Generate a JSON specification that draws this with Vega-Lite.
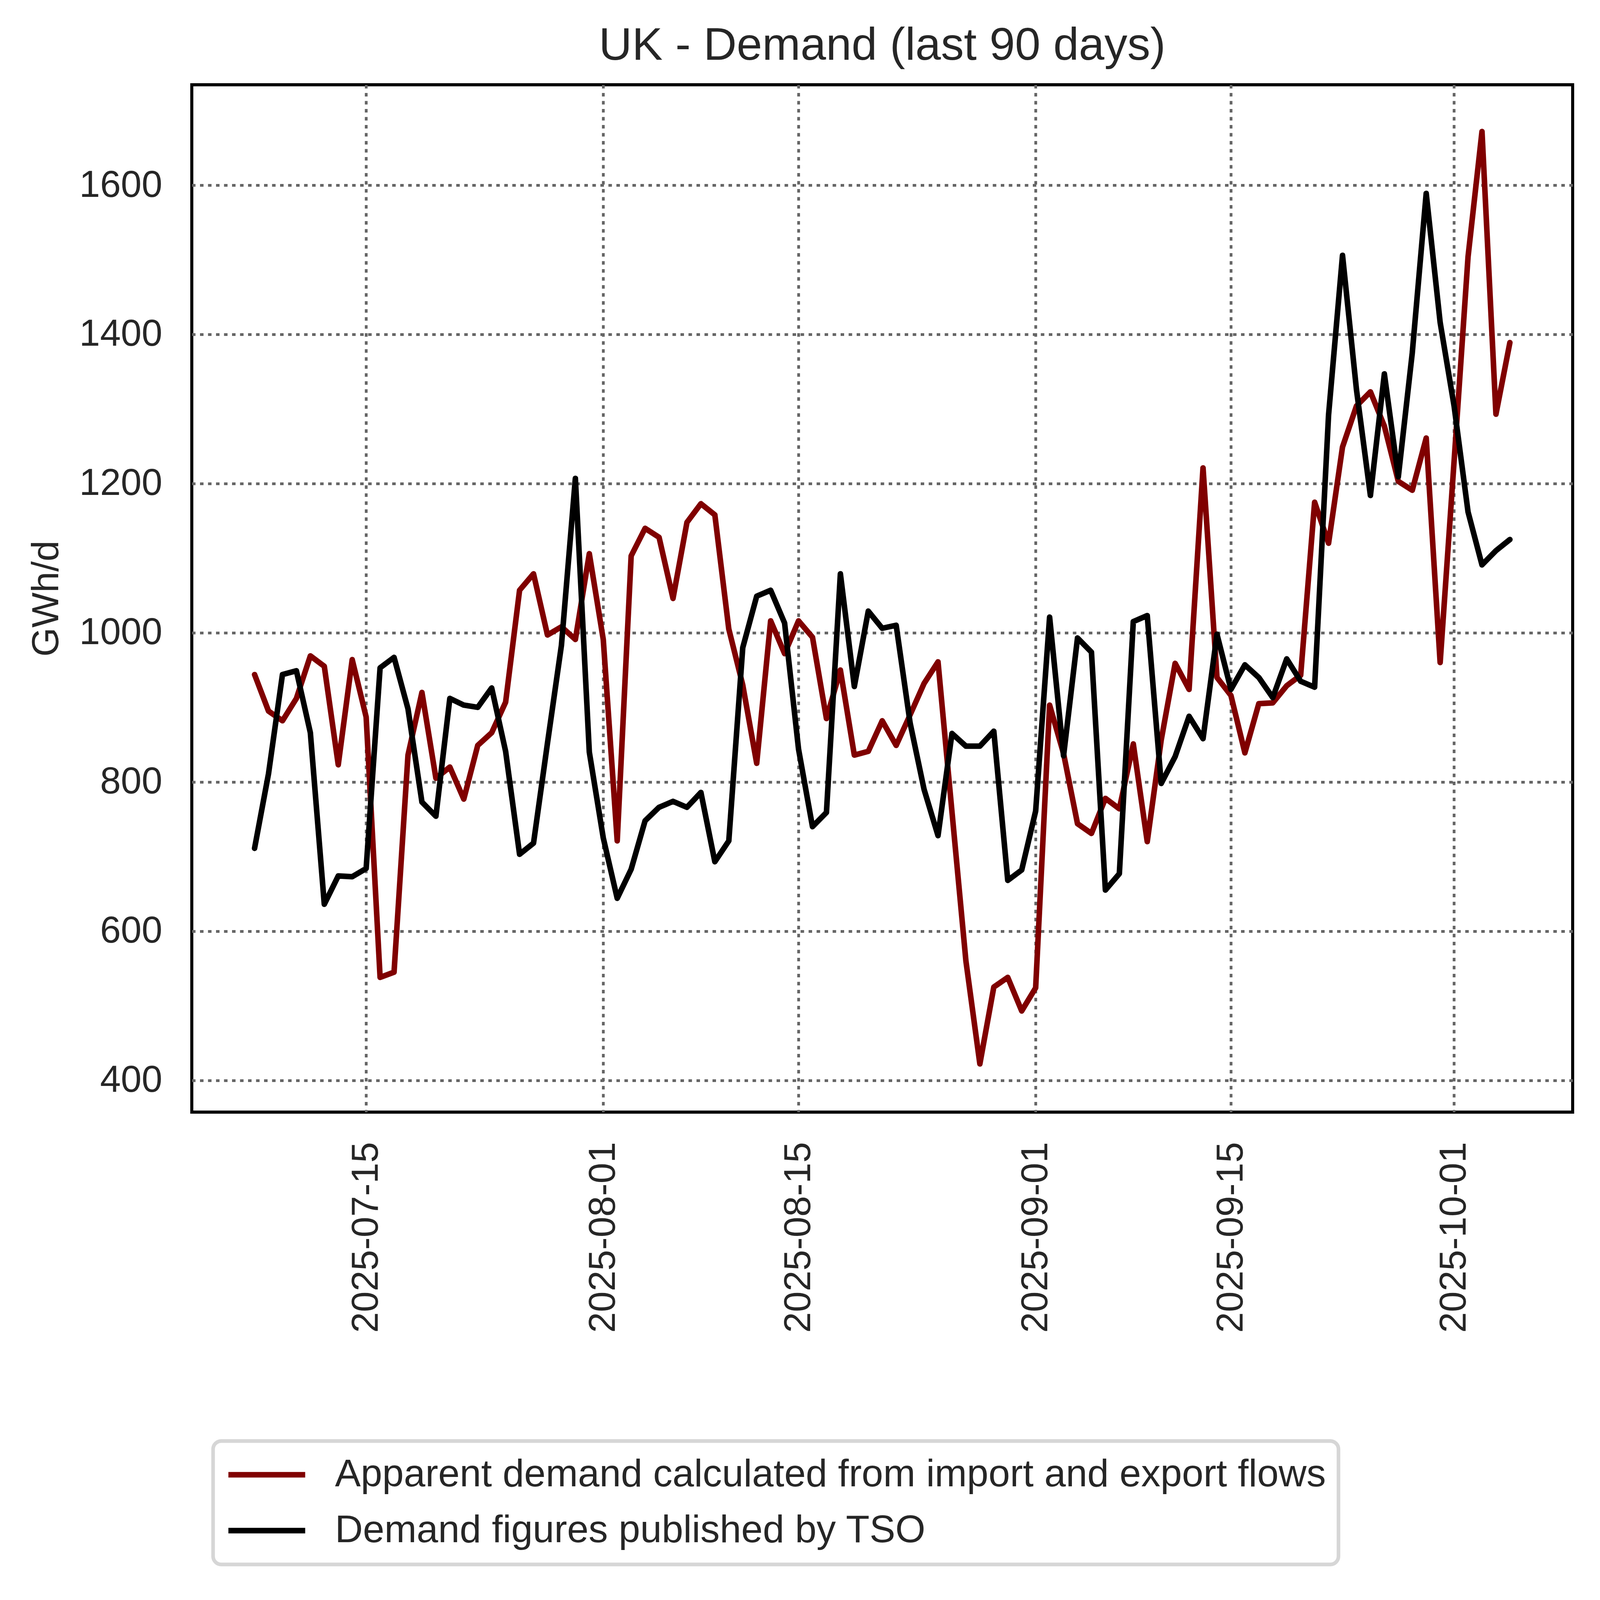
{
  "$schema": "https://vega.github.io/schema/vega-lite/v6.json",
  "autosize": {"type": "none"},
  "width": 3535,
  "height": 2630,
  "padding": {"left": 491, "top": 217, "right": 70, "bottom": 1229},
  "background": "white",
  "title": {
    "text": "UK - Demand (last 90 days)",
    "fontSize": 117.6,
    "font": "Liberation Sans",
    "fontWeight": "normal",
    "color": "#262626",
    "anchor": "middle",
    "baseline": "alphabetic",
    "offset": -54
  },
  "data": {
    "values": [
      {"date": "2025-07-07", "a": 944, "t": 711},
      {"date": "2025-07-08", "a": 895, "t": 811},
      {"date": "2025-07-09", "a": 882, "t": 944},
      {"date": "2025-07-10", "a": 912, "t": 949},
      {"date": "2025-07-11", "a": 969, "t": 866},
      {"date": "2025-07-12", "a": 955, "t": 636},
      {"date": "2025-07-13", "a": 823, "t": 674},
      {"date": "2025-07-14", "a": 964, "t": 673},
      {"date": "2025-07-15", "a": 887, "t": 684},
      {"date": "2025-07-16", "a": 538, "t": 953},
      {"date": "2025-07-17", "a": 545, "t": 967},
      {"date": "2025-07-18", "a": 836, "t": 898},
      {"date": "2025-07-19", "a": 920, "t": 773},
      {"date": "2025-07-20", "a": 805, "t": 754},
      {"date": "2025-07-21", "a": 820, "t": 912},
      {"date": "2025-07-22", "a": 777, "t": 903},
      {"date": "2025-07-23", "a": 849, "t": 900},
      {"date": "2025-07-24", "a": 866, "t": 926},
      {"date": "2025-07-25", "a": 907, "t": 841},
      {"date": "2025-07-26", "a": 1057, "t": 703},
      {"date": "2025-07-27", "a": 1079, "t": 718},
      {"date": "2025-07-28", "a": 997, "t": 852},
      {"date": "2025-07-29", "a": 1008, "t": 983},
      {"date": "2025-07-30", "a": 991, "t": 1207},
      {"date": "2025-07-31", "a": 1106, "t": 840},
      {"date": "2025-08-01", "a": 991, "t": 725},
      {"date": "2025-08-02", "a": 721, "t": 644},
      {"date": "2025-08-03", "a": 1103, "t": 683},
      {"date": "2025-08-04", "a": 1140, "t": 748},
      {"date": "2025-08-05", "a": 1128, "t": 766},
      {"date": "2025-08-06", "a": 1046, "t": 774},
      {"date": "2025-08-07", "a": 1148, "t": 766},
      {"date": "2025-08-08", "a": 1173, "t": 786},
      {"date": "2025-08-09", "a": 1158, "t": 693},
      {"date": "2025-08-10", "a": 1005, "t": 721},
      {"date": "2025-08-11", "a": 930, "t": 980},
      {"date": "2025-08-12", "a": 825, "t": 1049},
      {"date": "2025-08-13", "a": 1016, "t": 1057},
      {"date": "2025-08-14", "a": 972, "t": 1013},
      {"date": "2025-08-15", "a": 1016, "t": 844},
      {"date": "2025-08-16", "a": 994, "t": 740},
      {"date": "2025-08-17", "a": 885, "t": 759},
      {"date": "2025-08-18", "a": 950, "t": 1079},
      {"date": "2025-08-19", "a": 836, "t": 928},
      {"date": "2025-08-20", "a": 841, "t": 1029},
      {"date": "2025-08-21", "a": 882, "t": 1006},
      {"date": "2025-08-22", "a": 849, "t": 1010},
      {"date": "2025-08-23", "a": 890, "t": 879},
      {"date": "2025-08-24", "a": 932, "t": 790},
      {"date": "2025-08-25", "a": 961, "t": 728},
      {"date": "2025-08-26", "a": 760, "t": 865},
      {"date": "2025-08-27", "a": 560, "t": 848},
      {"date": "2025-08-28", "a": 422, "t": 848},
      {"date": "2025-08-29", "a": 525, "t": 868},
      {"date": "2025-08-30", "a": 538, "t": 668},
      {"date": "2025-08-31", "a": 493, "t": 682},
      {"date": "2025-09-01", "a": 524, "t": 761},
      {"date": "2025-09-02", "a": 903, "t": 1021},
      {"date": "2025-09-03", "a": 838, "t": 835},
      {"date": "2025-09-04", "a": 744, "t": 993},
      {"date": "2025-09-05", "a": 731, "t": 974},
      {"date": "2025-09-06", "a": 778, "t": 655},
      {"date": "2025-09-07", "a": 764, "t": 677},
      {"date": "2025-09-08", "a": 851, "t": 1015},
      {"date": "2025-09-09", "a": 720, "t": 1023},
      {"date": "2025-09-10", "a": 856, "t": 798},
      {"date": "2025-09-11", "a": 959, "t": 834},
      {"date": "2025-09-12", "a": 924, "t": 888},
      {"date": "2025-09-13", "a": 1221, "t": 858},
      {"date": "2025-09-14", "a": 940, "t": 998},
      {"date": "2025-09-15", "a": 916, "t": 924},
      {"date": "2025-09-16", "a": 839, "t": 957},
      {"date": "2025-09-17", "a": 905, "t": 940},
      {"date": "2025-09-18", "a": 906, "t": 913},
      {"date": "2025-09-19", "a": 929, "t": 965},
      {"date": "2025-09-20", "a": 943, "t": 935},
      {"date": "2025-09-21", "a": 1175, "t": 927},
      {"date": "2025-09-22", "a": 1120, "t": 1292},
      {"date": "2025-09-23", "a": 1249, "t": 1506},
      {"date": "2025-09-24", "a": 1304, "t": 1326},
      {"date": "2025-09-25", "a": 1323, "t": 1184},
      {"date": "2025-09-26", "a": 1277, "t": 1347},
      {"date": "2025-09-27", "a": 1203, "t": 1209},
      {"date": "2025-09-28", "a": 1191, "t": 1375},
      {"date": "2025-09-29", "a": 1261, "t": 1589},
      {"date": "2025-09-30", "a": 960, "t": 1416},
      {"date": "2025-10-01", "a": 1230, "t": 1304},
      {"date": "2025-10-02", "a": 1504, "t": 1162},
      {"date": "2025-10-03", "a": 1672, "t": 1091},
      {"date": "2025-10-04", "a": 1293, "t": 1110},
      {"date": "2025-10-05", "a": 1389, "t": 1125}
    ]
  },
  "transform": [{"fold": ["a", "t"], "as": ["series", "value"]}],
  "mark": {"type": "line", "strokeWidth": 14.25, "strokeCap": "round", "strokeJoin": "round"},
  "encoding": {
    "x": {
      "field": "date",
      "type": "temporal",
      "scale": {
        "type": "utc",
        "domain": [
          {"year": 2025, "month": 7, "date": 2, "hours": 12, "utc": true},
          {"year": 2025, "month": 10, "date": 9, "hours": 12, "utc": true}
        ]
      },
      "axis": {
        "title": null,
        "values": [
          {"year": 2025, "month": 7, "date": 15, "utc": true},
          {"year": 2025, "month": 8, "date": 1, "utc": true},
          {"year": 2025, "month": 8, "date": 15, "utc": true},
          {"year": 2025, "month": 9, "date": 1, "utc": true},
          {"year": 2025, "month": 9, "date": 15, "utc": true},
          {"year": 2025, "month": 10, "date": 1, "utc": true}
        ],
        "labelExpr": "utcFormat(datum.value, '%Y-%m-%d')",
        "labelAngle": -90,
        "labelPadding": 76
      }
    },
    "y": {
      "field": "value",
      "type": "quantitative",
      "scale": {"domain": [357.4, 1734.6], "nice": false, "zero": false},
      "axis": {
        "title": "GWh/d",
        "values": [400, 600, 800, 1000, 1200, 1400, 1600],
        "format": "d",
        "labelPadding": 76,
        "titleX": -343,
        "titleY": 1315,
        "titleAngle": -90,
        "titleAlign": "center",
        "titleBaseline": "alphabetic"
      }
    },
    "color": {
      "field": "series",
      "type": "nominal",
      "scale": {"domain": ["a", "t"], "range": ["#800000", "#000000"]},
      "legend": {
        "title": null,
        "orient": "none",
        "legendX": 54.5,
        "legendY": 3472,
        "direction": "vertical",
        "labelExpr": "datum.value == 'a' ? 'Apparent demand calculated from import and export flows' : 'Demand figures published by TSO'",
        "symbolType": "stroke",
        "symbolSize": 38660,
        "symbolStrokeWidth": 14.25,
        "clipHeight": 108.5,
        "rowPadding": 34,
        "padding": 32,
        "labelOffset": 69,
        "labelLimit": 0,
        "strokeColor": "#d6d6d6",
        "cornerRadius": 21,
        "fillColor": "white",
        "encode": {
          "legend": {"update": {"strokeWidth": {"value": 9.3}}}
        }
      }
    }
  },
  "config": {
    "font": "Liberation Sans",
    "view": {"stroke": "#000000", "strokeWidth": 7.8},
    "axis": {
      "domain": false,
      "ticks": false,
      "tickSize": 0,
      "grid": true,
      "gridColor": "#666666",
      "gridWidth": 7.1,
      "gridDash": [9, 11.5],
      "gridOpacity": 1,
      "labelFont": "Liberation Sans",
      "labelFontSize": 95.5,
      "labelColor": "#262626",
      "labelLimit": 0,
      "titleFont": "Liberation Sans",
      "titleFontSize": 95.5,
      "titleFontWeight": "normal",
      "titleColor": "#262626",
      "titleLimit": 0,
      "labelOverlap": false,
      "labelFlush": false
    },
    "legend": {
      "labelFont": "Liberation Sans",
      "labelFontSize": 99,
      "labelColor": "#262626",
      "labelLimit": 0
    }
  }
}
